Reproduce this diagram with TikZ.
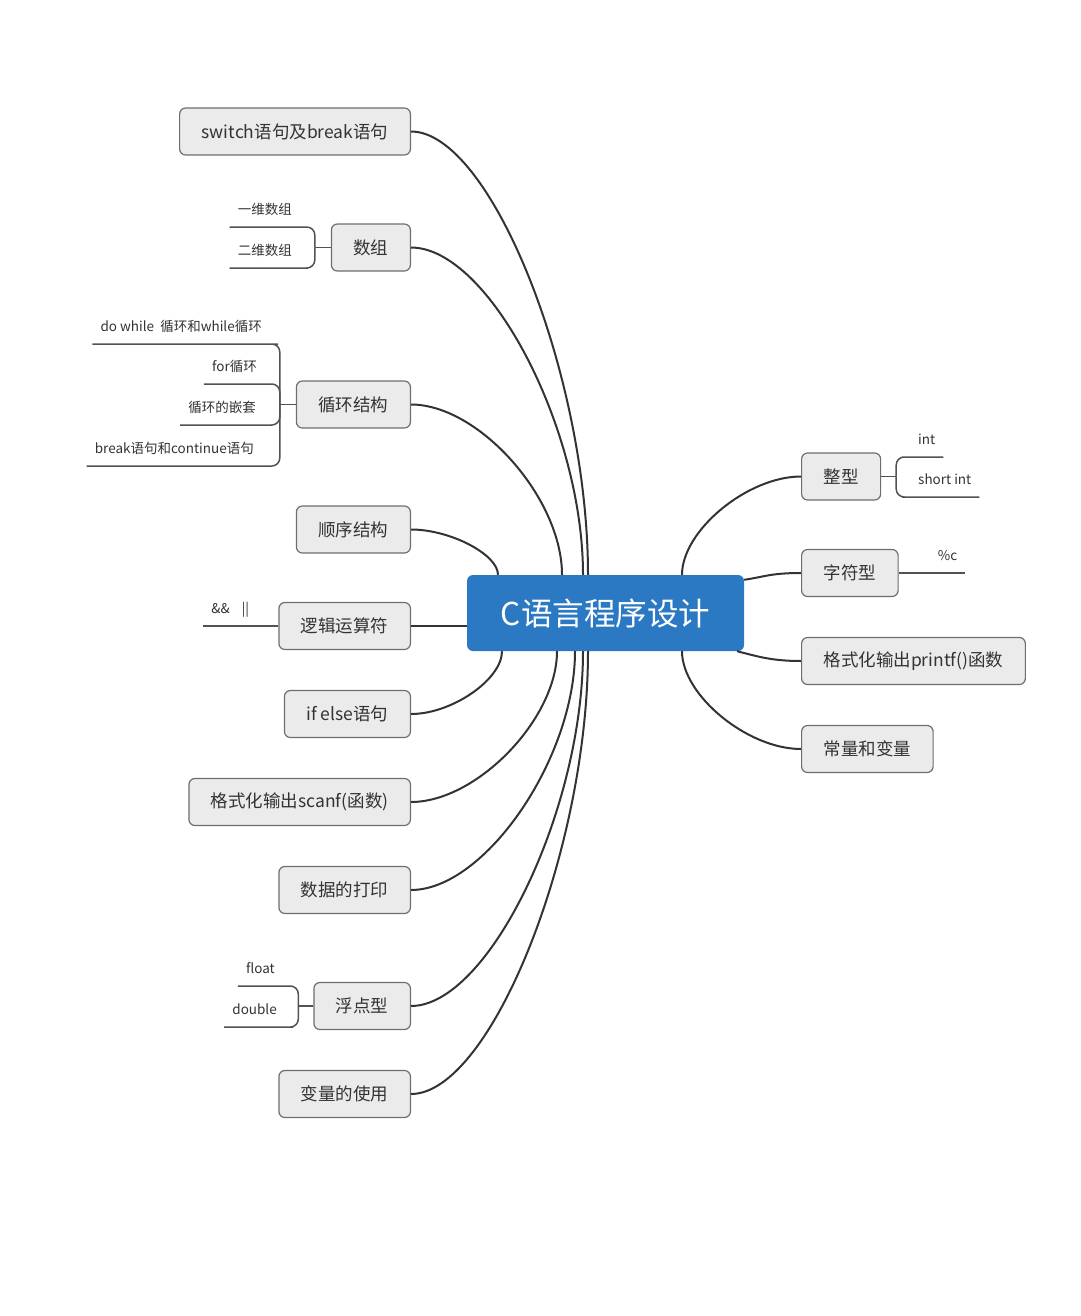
\documentclass[tikz,border=0pt]{standalone}
\usepackage{fontspec}
\setmainfont{Noto Sans CJK SC}
\usepackage{tikz}
\usetikzlibrary{calc, positioning}
\definecolor{topicgray}{HTML}{EBEBEB}
\definecolor{topicline}{HTML}{6E6E6E}
\definecolor{rootblue}{HTML}{2B79C2}
\definecolor{linkgray}{HTML}{333333}
\definecolor{textgray}{HTML}{333333}

\tikzset{
	topic/.style={draw=topicline, fill=topicgray, line width=1.2pt, rounded corners=6pt, minimum height=47pt, inner xsep=22pt, text=textgray, font=\fontsize{17.5}{20}\selectfont},
	root/.style={fill=rootblue, rounded corners=6pt, minimum width=277pt, minimum height=76pt, text=white, font=\fontsize{31.5}{36}\selectfont},
	leaf/.style={inner xsep=8pt, inner ysep=9pt, text depth=3pt, text=textgray, font=\fontsize{13.5}{16}\selectfont},
	link/.style={draw=linkgray, line width=2pt},
	sublink/.style={draw=linkgray!85, line width=1.5pt, rounded corners=8pt},
	branch/.style={to path={.. controls ($(\tikztostart)!0.45!(\tikztostart -| \tikztotarget)$) and ($(\tikztotarget)!0.45!(\tikztostart -| \tikztotarget)$) .. (\tikztotarget)}}
}

\begin{document}
\begin{tikzpicture}[x=1pt, y=-1pt]
		\useasboundingbox (0,0) rectangle (1080,1316);
		
		% central topic
		\node[root] (root) at (605.5,613) {C语言程序设计};
		
		% main topics, left
		\node[topic, anchor=east] (sw) at (411,131.5) {switch语句及break语句};
		\node[topic, anchor=east] (sz) at (411,247.5) {数组};
		\node[topic, anchor=east] (xh) at (411,404.5) {循环结构};
		\node[topic, anchor=east] (sx) at (411,529.5) {顺序结构};
		\node[topic, anchor=east] (lj) at (411,626) {逻辑运算符};
		\node[topic, anchor=east] (ie) at (411,714) {if else语句};
		\node[topic, anchor=east] (sc) at (411,802) {格式化输出scanf(函数)};
		\node[topic, anchor=east] (dy) at (411,890) {数据的打印};
		\node[topic, anchor=east] (fd) at (411,1006) {浮点型};
		\node[topic, anchor=east] (bl) at (411,1094) {变量的使用};
		
		% main topics, right
		\node[topic, anchor=west] (zx) at (801,476.5) {整型};
		\node[topic, anchor=west] (zf) at (801,573) {字符型};
		\node[topic, anchor=west] (pf) at (801,661) {格式化输出printf()函数};
		\node[topic, anchor=west] (cl) at (801,749) {常量和变量};
		
		% where the branches meet the central topic
		\foreach \n/\x in {sw/588, sz/583, xh/562, sx/498, zx/682}
			\coordinate (r-\n) at (\x,0 |- root.north);
		\foreach \n/\x in {ie/502, sc/557, dy/575, fd/583, bl/588, pf/737, cl/682}
			\coordinate (r-\n) at (\x,0 |- root.south);
		\coordinate (r-lj) at (root.west |- lj.east);
		\coordinate (r-zf) at ($(root.north east)+(0,5)$);
		
		\foreach \n in {sw,sz,xh,sx,ie,sc,dy,fd,bl}
			\draw[link] (\n.east) to[branch] (r-\n);
		\foreach \n in {zx,cl}
			\draw[link] (\n.west) to[branch] (r-\n);
		\draw[link] (lj.east) -- (r-lj);
		\draw[link] (zf.west) .. controls +(-30,0) and +(20,-3) .. (r-zf);
		\draw[link] (pf.west) .. controls +(-30,0) and +(20,5) .. (r-pf);
		
		% sub topics of 数组
		\node[leaf, anchor=south east] (sz-1) at (300,227) {一维数组};
		\node[leaf, anchor=south east] (sz-2) at (300,268) {二维数组};
		\coordinate (sz-j) at ($(sz.west)+(-16,0)$);
		\draw[sublink] (sz.west) -- (sz-j);
		\foreach \i in {1,2}
			\draw[sublink] (sz-\i.south west) -- (sz-\i.south east) -| (sz-j);
		
		% sub topics of 循环结构
		\node[leaf, anchor=south east] (xh-1) at (270,344) {do while~ 循环和while循环};
		\node[leaf, anchor=south east] (xh-2) at (265,384) {for循环};
		\node[leaf, anchor=south east] (xh-3) at (264,425) {循环的嵌套};
		\node[leaf, anchor=south east] (xh-4) at (262,466) {break语句和continue语句};
		\coordinate (xh-j) at ($(xh.west)+(-16,0)$);
		\draw[sublink] (xh.west) -- (xh-j);
		\foreach \i in {1,...,4}
			\draw[sublink] (xh-\i.south west) -- (xh-\i.south east) -| (xh-j);
		
		% sub topic of 逻辑运算符
		\node[leaf, anchor=south east] (lj-1) at ($(lj.west)+(-21,0)$) {\&\&\hspace{12pt}||};
		\draw[sublink] (lj.west) -- (lj-1.south east) -- (lj-1.south west);
		
		% sub topics of 浮点型
		\node[leaf, anchor=south east] (fd-1) at (283,986) {float};
		\node[leaf, anchor=south east] (fd-2) at (285,1027) {double};
		\coordinate (fd-j) at ($(fd.west)+(-15,0)$);
		\draw[sublink] (fd.west) -- (fd-j);
		\foreach \i in {1,2}
			\draw[sublink] (fd-\i.south west) -- (fd-\i.south east) -| (fd-j);
		
		% sub topics of 整型
		\node[leaf, anchor=south west] (zx-1) at (910,457) {int};
		\node[leaf, anchor=south west] (zx-2) at (910,497) {short int};
		\coordinate (zx-j) at ($(zx.east)+(15,0)$);
		\draw[sublink] (zx.east) -- (zx-j);
		\foreach \i in {1,2}
			\draw[sublink] (zx-\i.south east) -- (zx-\i.south west) -| (zx-j);
		
		% sub topic of 字符型
		\node[leaf, anchor=south west] (zf-1) at ($(zf.east)+(31,0)$) {\%c};
		\draw[sublink] (zf.east) -- (zf-1.south west) -- (zf-1.south east);
\end{tikzpicture}
\end{document}
